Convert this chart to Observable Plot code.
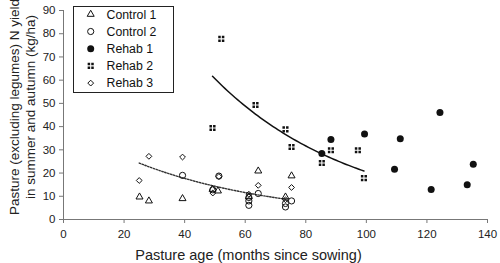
<!DOCTYPE html>
<html><head><meta charset="utf-8">
<script src="https://cdn.jsdelivr.net/npm/d3@7"></script>
<script src="https://cdn.jsdelivr.net/npm/@observablehq/plot@0.6"></script>
<style>body{margin:0;background:#fff}</style>
</head><body><div id="chart"></div>
<script>
// ---- data ----
const seriesNames = ["Control 1", "Control 2", "Rehab 1", "Rehab 2", "Rehab 3"];
const control1 = [[25.1,9.7],[28.2,8.0],[39.3,9.0],[49.2,13.0],[51.0,12.3],[61.2,9.8],[64.3,20.9],[73.3,9.7],[75.3,18.8]];
const control2 = [[39.3,19.0],[49.3,12.8],[51.3,18.7],[61.2,9.5],[61.2,8.0],[61.2,6.1],[64.3,11.2],[73.3,6.9],[73.3,5.4],[75.3,8.0]];
const rehab1 = [[85.3,28.4],[88.3,34.5],[99.4,36.8],[109.3,21.6],[111.2,34.8],[121.4,12.9],[124.3,46.1],[133.3,15.0],[135.3,23.8]];
const rehab2 = [[49.2,39.4],[52.1,77.8],[63.4,49.3],[73.3,38.8],[75.3,31.2],[85.3,24.3],[88.3,29.8],[97.2,29.8],[99.2,17.8]];
const rehab3 = [[25.0,16.8],[28.2,27.2],[39.3,26.9],[49.3,11.4],[51.3,18.5],[61.2,10.9],[64.3,14.7],[73.3,8.5],[75.3,13.8]];
// exponential trend lines y = a*exp(b*x), coefficients and x-range
const rehab2Trend = [179.0, -0.02165];
const rehab2TrendRange = [49.2, 99.2];
const rehab3Trend = [41.2, -0.02113];
const rehab3TrendRange = [25.0, 73.6];
const xTicks = [0, 20, 40, 60, 80, 100, 120, 140];
const yTicks = [0, 10, 20, 30, 40, 50, 60, 70, 80, 90];
const xTitle = "Pasture age (months since sowing)";
const yTitleLines = ["Pasture (excluding legumes) N yield", "in summer and autumn (kg/ha)"];

// ---- symbols & styles ----
const quadSymbol = {draw(ctx) {
  const s = 2.5, g = 1.1;
  for (const sx of [-1, 1]) for (const sy of [-1, 1]) {
    const cx = sx * (s + g) / 2, cy = sy * (s + g) / 2;
    ctx.rect(cx - s / 2, cy - s / 2, s, s);
  }
}};
const diamondSymbol = {draw(ctx) {
  const r = 2.9;
  ctx.moveTo(0, -r); ctx.lineTo(r, 0); ctx.lineTo(0, r); ctx.lineTo(-r, 0); ctx.closePath();
}};
const seriesData = [control1, control2, rehab1, rehab2, rehab3];
const styles = [
  {symbol: d3.symbolTriangle, r: 2.6, fill: "none", stroke: "#111", strokeWidth: 1},
  {symbol: d3.symbolCircle, r: 3.1, fill: "none", stroke: "#111", strokeWidth: 1},
  {symbol: d3.symbolCircle, r: 3.5, fill: "#111", stroke: "none", strokeWidth: 0},
  {symbol: quadSymbol, r: 3, fill: "#111", stroke: "none", strokeWidth: 0},
  {symbol: diamondSymbol, r: 3, fill: "none", stroke: "#111", strokeWidth: 1}
];

function trendPoints(coef, range) {
  const [a, b] = coef, [x0, x1] = range, n = 60;
  return d3.range(n + 1).map(i => { const x = x0 + (x1 - x0) * i / n; return {x, y: a * Math.exp(b * x)}; });
}

const dotMarks = seriesData.map((pts, i) => Plot.dot(pts, {
  x: d => d[0], y: d => d[1],
  symbol: styles[i].symbol, r: styles[i].r,
  fill: styles[i].fill, stroke: styles[i].stroke, strokeWidth: styles[i].strokeWidth
}));

const plot = Plot.plot({
  width: 500, height: 263,
  marginLeft: 63, marginRight: 13, marginTop: 10, marginBottom: 44,
  x: {domain: [0, 140]},
  y: {domain: [0, 90]},
  style: {fontFamily: "Liberation Sans, Arial, sans-serif", fontSize: "11.5px", color: "#111", background: "#fff"},
  marks: [
    Plot.axisX(xTicks, {tickSize: 4, tickPadding: 6, stroke: "#777", fill: "#222", label: null}),
    Plot.axisY(yTicks, {tickSize: 4, tickPadding: 4, stroke: "#777", fill: "#222", label: null}),
    Plot.ruleX([0], {stroke: "#777"}),
    Plot.ruleY([0], {stroke: "#777"}),
    Plot.text([xTitle], {text: d => d, frameAnchor: "bottom", dx: -27, dy: 36, lineAnchor: "middle", fontSize: 14.5, fill: "#222"}),
    Plot.text([yTitleLines.join("\n")], {text: d => d, frameAnchor: "left", rotate: -90, dx: -42, dy: -8,
      lineAnchor: "middle", textAnchor: "middle", lineHeight: 1.18, fontSize: 13.5, fill: "#222"}),
    Plot.line(trendPoints(rehab3Trend, rehab3TrendRange), {x: "x", y: "y", stroke: "#333", strokeWidth: 1.4, strokeDasharray: "1.5,1.5"}),
    Plot.line(trendPoints(rehab2Trend, rehab2TrendRange), {x: "x", y: "y", stroke: "#111", strokeWidth: 1.5}),
    ...dotMarks
  ]
});

// ---- legend box ----
const svg = d3.select(plot);
const lg = svg.append("g").attr("text-anchor", "start");
lg.append("rect").attr("x", 73.5).attr("y", 6.5).attr("width", 100).attr("height", 86)
  .attr("fill", "#fff").attr("stroke", "#222").attr("stroke-width", 1);
seriesNames.forEach((name, i) => {
  const cy = 14.3 + i * 17.2, st = styles[i];
  lg.append("path").attr("transform", `translate(90.7,${cy})`)
    .attr("d", d3.symbol(st.symbol, Math.PI * st.r * st.r)())
    .attr("fill", st.fill).attr("stroke", st.stroke).attr("stroke-width", st.strokeWidth);
  lg.append("text").attr("x", 106.5).attr("y", cy).attr("dy", "0.35em")
    .attr("text-anchor", "start")
    .attr("fill", "#111").style("font-size", "12.3px").text(name);
});

document.getElementById("chart").appendChild(plot);
</script>
</body></html>
